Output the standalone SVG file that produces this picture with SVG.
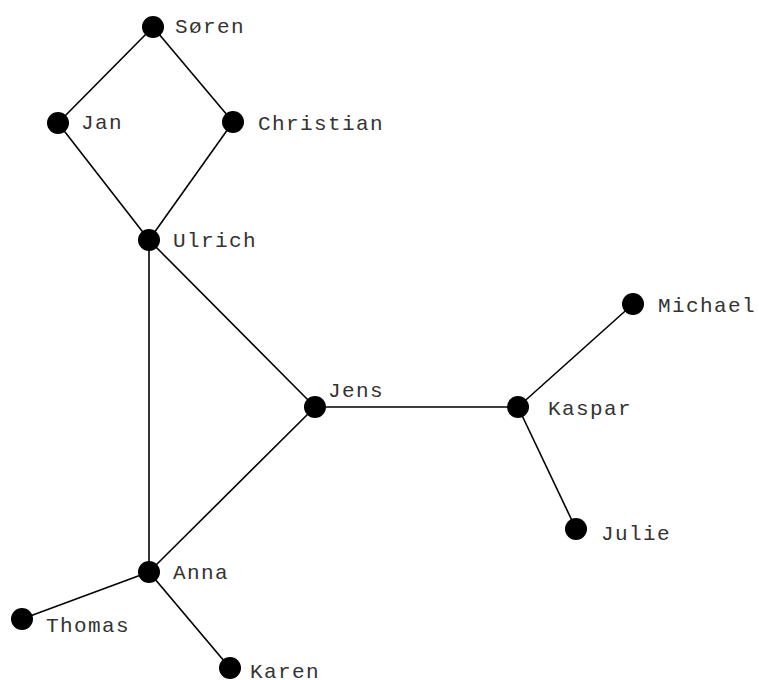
<svg xmlns="http://www.w3.org/2000/svg" width="759" height="680" viewBox="0 0 759 680">
<style>
.e{stroke:#000;stroke-width:1.6;fill:none}
.n{fill:#000}
.t{font-family:"Liberation Mono","Courier New",monospace;font-size:21px;letter-spacing:1.4px;fill:#333}
</style>
<rect width="759" height="680" fill="#fff"/>
<g id="edges">
<line class="e" x1="153" y1="27" x2="58" y2="123"/>
<line class="e" x1="153" y1="27" x2="233" y2="122"/>
<line class="e" x1="58" y1="123" x2="149" y2="240"/>
<line class="e" x1="233" y1="122" x2="149" y2="240"/>
<line class="e" x1="149" y1="240" x2="149" y2="572"/>
<line class="e" x1="149" y1="240" x2="315" y2="407"/>
<line class="e" x1="315" y1="407" x2="149" y2="572"/>
<line class="e" x1="315" y1="407" x2="518" y2="407"/>
<line class="e" x1="518" y1="407" x2="633" y2="304"/>
<line class="e" x1="518" y1="407" x2="576" y2="529"/>
<line class="e" x1="149" y1="572" x2="22" y2="619"/>
<line class="e" x1="149" y1="572" x2="230" y2="668"/>
</g>
<g id="soren"><circle class="n" cx="153" cy="27" r="11"/><text class="t" x="175" y="33">Søren</text></g>
<g id="jan"><circle class="n" cx="58" cy="123" r="11"/><text class="t" x="81" y="129">Jan</text></g>
<g id="christian"><circle class="n" cx="233" cy="122" r="11"/><text class="t" x="258" y="130">Christian</text></g>
<g id="ulrich"><circle class="n" cx="149" cy="240" r="11"/><text class="t" x="173" y="247">Ulrich</text></g>
<g id="jens"><circle class="n" cx="315" cy="407" r="11"/><text class="t" x="328" y="397">Jens</text></g>
<g id="kaspar"><circle class="n" cx="518" cy="407" r="11"/><text class="t" x="548" y="415">Kaspar</text></g>
<g id="michael"><circle class="n" cx="633" cy="304" r="11"/><text class="t" x="658" y="312">Michael</text></g>
<g id="julie"><circle class="n" cx="576" cy="529" r="11"/><text class="t" x="601" y="540">Julie</text></g>
<g id="anna"><circle class="n" cx="149" cy="572" r="11"/><text class="t" x="173" y="579">Anna</text></g>
<g id="thomas"><circle class="n" cx="22" cy="619" r="11"/><text class="t" x="46" y="632">Thomas</text></g>
<g id="karen"><circle class="n" cx="230" cy="668" r="11"/><text class="t" x="250" y="678">Karen</text></g>
</svg>
